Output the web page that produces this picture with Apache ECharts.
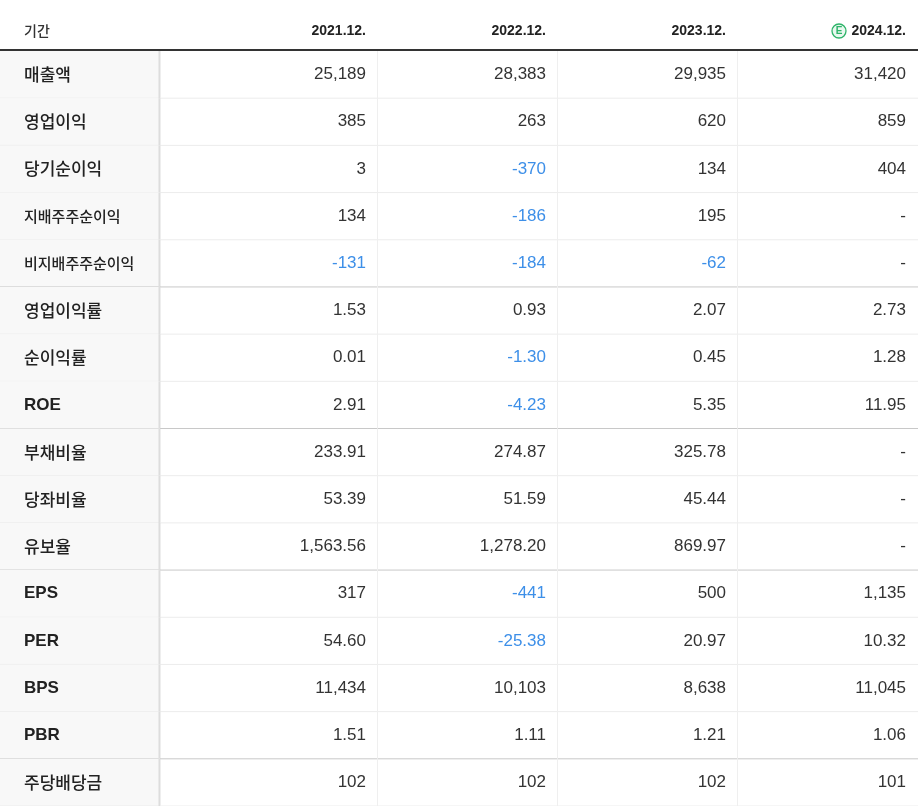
<!DOCTYPE html>
<html><head><meta charset="utf-8">
<script src="https://cdn.jsdelivr.net/npm/echarts@6/dist/echarts.min.js"></script>
<style>html,body{margin:0;padding:0;background:#fff}#c{width:918px;height:806px}</style>
</head><body><div id="c"></div>
<script>
const periods = ['2021.12.', '2022.12.', '2023.12.', '2024.12.'];
const estimated = [false, false, false, true];
const rowLabels = ['매출액','영업이익','당기순이익','지배주주순이익','비지배주주순이익','영업이익률','순이익률','ROE','부채비율','당좌비율','유보율','EPS','PER','BPS','PBR','주당배당금'];
const v2021 = ['25,189','385','3','134','-131','1.53','0.01','2.91','233.91','53.39','1,563.56','317','54.60','11,434','1.51','102'];
const v2022 = ['28,383','263','-370','-186','-184','0.93','-1.30','-4.23','274.87','51.59','1,278.20','-441','-25.38','10,103','1.11','102'];
const v2023 = ['29,935','620','134','195','-62','2.07','0.45','5.35','325.78','45.44','869.97','500','20.97','8,638','1.21','102'];
const v2024 = ['31,420','859','404','-','-','2.73','1.28','11.95','-','-','-','1,135','10.32','11,045','1.06','101'];
const groupEnds = [4, 7, 10, 14];
const smallLabels = [3, 4];

const colEdges = [0, 160, 378, 558, 738, 918];
const cols = [v2021, v2022, v2023, v2024];
const FONT = '"Liberation Sans", Arial, "Noto Sans CJK KR", sans-serif';
const KFONT = '"Noto Sans CJK KR", "Liberation Sans", sans-serif';

const data = [];
rowLabels.forEach((lab, r) => {
  data.push([0, r, lab]);
  cols.forEach((c, ci) => data.push([ci + 1, r, c[r]]));
});

const chart = echarts.init(document.getElementById('c'));
function renderItem(params, api) {
  const ci = api.value(0), r = api.value(1);
  const txt = data[params.dataIndex][2];
  const top = api.coord([0, r])[1], bot = api.coord([0, r + 1])[1];
  const x0 = api.coord([colEdges[ci], 0])[0], x1 = api.coord([colEdges[ci + 1], 0])[0];
  const cy = (top + bot) / 2;
  const children = [];
  if (ci === 0) children.push({type:'rect', shape:{x:x0,y:top,width:x1-x0,height:bot-top}, style:{fill:'#f8f8f8'}});
  const isGroupEnd = groupEnds.indexOf(r) >= 0;
  children.push({type:'line', shape:{x1:x0,y1:bot,x2:x1,y2:bot}, style:{stroke:isGroupEnd?'#c8c8c8':'#ececec', lineWidth:1}});
  if (ci < 4) children.push({type:'line', shape:{x1:x1-0.5,y1:top,x2:x1-0.5,y2:bot}, style:{stroke: ci===0?'#dddddd':'#efefef', lineWidth: ci===0?2:1}});
  if (ci === 0) {
    const small = smallLabels.indexOf(r) >= 0;
    const latin = /^[A-Z]+$/.test(txt);
    children.push({type:'text', style:{text:txt, x:x0+24, y:cy, verticalAlign:'middle', align:'left',
      font: latin ? 'bold 17px ' + FONT : ((small?'500 15px ':'500 17px ')+KFONT), fill:'#222'}});
  } else {
    const neg = txt.charAt(0) === '-' && txt.length > 1;
    children.push({type:'text', style:{text:txt, x:x1-12, y:cy, verticalAlign:'middle', align:'right',
      font:'17px '+FONT, fill: neg ? '#3d8fe8' : '#333'}});
  }
  return {type:'group', children};
}

const graphics = [
  {type:'text', x:24, y:31, style:{text:'기간', verticalAlign:'middle', font:'500 14px '+KFONT, fill:'#333'}},
  {type:'line', shape:{x1:0,y1:50,x2:918,y2:50}, style:{stroke:'#333', lineWidth:2}}
];
periods.forEach((p, i) => {
  const right = colEdges[i + 2] - 12;
  graphics.push({type:'text', x:right, y:31, style:{text:p, align:'right', verticalAlign:'middle', font:'bold 14px '+FONT, fill:'#222'}});
  if (estimated[i]) {
    const cx = right - 67;
    graphics.push({type:'circle', shape:{cx:cx, cy:31, r:7}, style:{fill:'#e9f8ef', stroke:'#2fb46a', lineWidth:1.3}});
    graphics.push({type:'text', x:cx, y:31.5, style:{text:'E', align:'center', verticalAlign:'middle', font:'bold 10px '+FONT, fill:'#2fb46a'}});
  }
});

chart.setOption({
  animation:false,
  grid:{left:0, right:0, top:51, bottom:0},
  xAxis:{type:'value', min:0, max:918, show:false},
  yAxis:{type:'value', min:0, max:rowLabels.length, inverse:true, show:false},
  graphic: graphics,
  series:[{type:'custom', renderItem, data, clip:false}]
});
</script></body></html>
